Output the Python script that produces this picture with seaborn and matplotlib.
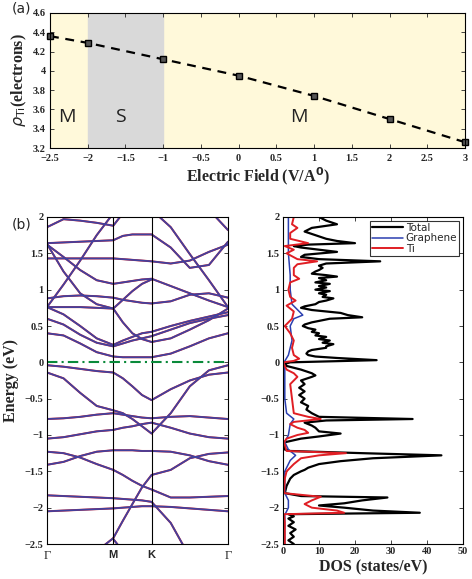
import numpy as np
import pandas as pd
import matplotlib
matplotlib.use("Agg")
import matplotlib.pyplot as plt
import seaborn as sns

sns.set_theme(style="ticks")
plt.rcParams['font.family'] = ['DejaVu Sans']

# ---------------- data: panel (a) ----------------
field = [-2.5, -2, -1, 0, 1, 2, 3]
rho_ti = [4.36, 4.29, 4.12, 3.95, 3.74, 3.50, 3.26]
phase_edges = [-2.5, -2.0, -1.0, 3.0]
phase_labels = ["M", "S", "M"]
phase_label_x = [-2.27, -1.57, 0.8]
a_xticks = [-2.5, -2, -1.5, -1, -0.5, 0, 0.5, 1, 1.5, 2, 2.5, 3]
a_xticklabels = ["\u22122.5", "\u22122", "\u22121.5", "\u22121", "\u22120.5", "0", "0.5", "1", "1.5", "2", "2.5", "3"]
a_yticks = [3.2, 3.4, 3.6, 3.8, 4.0, 4.2, 4.4, 4.6]
a_yticklabels = ["3.2", "3.4", "3.6", "3.8", "4", "4.2", "4.4", "4.6"]

# ---------------- data: band structure ----------------
kpath = [0.0, 0.144, 0.289, 0.433, 0.577, 0.661, 0.744, 0.828, 0.911, 1.078, 1.244, 1.411, 1.577]
kpoint_pos = [0.0, 0.577, 0.911, 1.577]
kpoint_labels = ["\u0393", "M", "K", "\u0393"]
nan = np.nan
band_V1 = [-0.04, -0.06, -0.09, -0.12, -0.14, -0.22, -0.33, -0.45, -0.52, -0.37, -0.25, -0.17, -0.14]
band_V2 = [-0.14, -0.22, -0.42, -0.60, -0.66, -0.70, -0.78, -0.88, -0.98, -0.70, -0.33, -0.11, -0.04]
band_A = [-0.78, -0.77, -0.75, -0.72, -0.70, -0.72, -0.74, -0.76, -0.77, -0.75, -0.74, -0.76, -0.78]
band_C = [-1.05, -1.03, -0.99, -0.95, -0.93, -0.90, -0.88, -0.85, -0.83, -0.90, -0.98, -1.03, -1.05]
band_D = [-1.23, -1.25, -1.31, -1.40, -1.48, -1.55, -1.63, -1.70, -1.75, -1.86, -1.86, -1.85, -1.84]
band_E = [-1.41, -1.37, -1.29, -1.23, -1.21, -1.21, -1.21, -1.22, -1.22, -1.23, -1.28, -1.36, -1.41]
band_F = [nan, nan, nan, -2.60, -2.42, -2.18, -1.95, -1.72, -1.55, -1.48, -1.32, -1.26, -1.24]
band_G = [nan, nan, nan, nan, -2.43, -2.60, nan, nan, nan, nan, nan, nan, nan]
band_H = [-1.83, -1.84, -1.85, -1.86, -1.87, -1.88, -1.89, -1.90, -1.92, -2.21, -2.68, nan, nan]
band_I = [-2.05, -2.04, -2.03, -2.02, -2.01, -2.00, -1.99, -1.98, -1.98, -1.99, -2.01, -2.03, -2.05]
band_C1 = [0.40, 0.37, 0.26, 0.14, 0.08, 0.07, 0.07, 0.07, 0.07, 0.12, 0.22, 0.33, 0.40]
band_C2 = [0.60, 0.52, 0.38, 0.27, 0.22, 0.26, 0.30, 0.33, 0.36, 0.45, 0.54, 0.60, 0.65]
band_C3 = [0.76, 0.66, 0.50, 0.33, 0.24, 0.30, 0.35, 0.40, 0.42, 0.50, 0.57, 0.63, 0.69]
band_F1 = [0.76, 0.76, 0.76, 0.75, 0.74, 0.55, 0.40, 0.32, 0.28, 0.33, 0.45, 0.58, 0.74]
band_B5 = [0.88, 0.91, 0.92, 0.91, 0.89, 0.86, 0.84, 0.82, 0.81, 0.84, 0.93, 0.95, 0.89]
band_B6 = [1.62, 1.45, 1.27, 1.13, 1.08, 1.10, 1.12, 1.14, 1.15, 1.05, 0.95, 0.85, 0.76]
band_R1 = [0.76, 1.07, 1.40, 1.75, 2.05, nan, nan, nan, nan, nan, nan, nan, nan]
band_R2 = [1.63, 1.25, 0.95, 0.80, 0.74, 0.86, 0.98, 1.08, 1.14, nan, nan, nan, nan]
band_B7 = [1.43, 1.43, 1.43, 1.43, 1.43, 1.42, 1.41, 1.40, 1.39, 1.36, 1.40, 1.52, 1.62]
band_B8 = [1.64, 1.65, 1.66, 1.67, 1.68, 1.74, 1.76, 1.76, 1.76, 1.58, 1.30, 1.34, 1.66]
band_B9 = [1.86, 1.97, 1.95, 1.92, 1.88, 2.05, nan, nan, nan, nan, nan, nan, nan]
band_R3 = [nan, nan, nan, nan, nan, nan, nan, nan, 2.10, 1.86, 1.49, 1.13, 0.76]
band_R4 = [nan, nan, nan, nan, nan, nan, nan, nan, nan, nan, 2.30, 2.10, 1.82]
bands = {
    "V1": band_V1, "V2": band_V2, "A": band_A, "C": band_C, "D": band_D, "E": band_E,
    "F": band_F, "G": band_G, "H": band_H, "I": band_I, "C1": band_C1, "C2": band_C2,
    "C3": band_C3, "F1": band_F1, "B5": band_B5, "B6": band_B6, "R1": band_R1, "R2": band_R2,
    "B7": band_B7, "B8": band_B8, "B9": band_B9, "R3": band_R3, "R4": band_R4,
}
e_ticks = [-2.5, -2, -1.5, -1, -0.5, 0, 0.5, 1, 1.5, 2]
e_ticklabels = ["\u22122.5", "\u22122", "\u22121.5", "\u22121", "\u22120.5", "0", "0.5", "1", "1.5", "2"]

# ---------------- data: DOS ----------------
E_total = [2.0, 1.95, 1.9, 1.85, 1.8, 1.75, 1.7, 1.67, 1.64, 1.62, 1.6, 1.58, 1.55, 1.52, 1.48, 1.45,
           1.42, 1.39, 1.36, 1.33, 1.3, 1.27, 1.25, 1.22, 1.2, 1.18, 1.16, 1.13, 1.1, 1.08, 1.05, 1.03,
           1.0, 0.98, 0.95, 0.93, 0.9, 0.88, 0.85, 0.83, 0.8, 0.77, 0.75, 0.72, 0.7, 0.68, 0.65, 0.62,
           0.6, 0.58, 0.55, 0.52, 0.5, 0.47, 0.45, 0.42, 0.4, 0.37, 0.35, 0.32, 0.3, 0.27, 0.25, 0.22,
           0.2, 0.17, 0.15, 0.12, 0.1, 0.08, 0.06, 0.03, 0.0, -0.02, -0.05, -0.1, -0.15, -0.18, -0.2,
           -0.25, -0.3, -0.35, -0.4, -0.45, -0.5, -0.55, -0.6, -0.65, -0.7, -0.75, -0.78,
           -0.8, -0.83, -0.87, -0.9, -0.95, -0.98, -1.02, -1.05, -1.1, -1.2, -1.22, -1.25, -1.28,
           -1.32, -1.36, -1.4, -1.45, -1.48, -1.5, -1.55, -1.6, -1.7, -1.8, -1.84, -1.86, -1.9, -1.94,
           -1.97, -2.0, -2.04, -2.07, -2.09, -2.12, -2.15, -2.2, -2.25, -2.3, -2.35, -2.4, -2.45, -2.5]
dos_total = [10, 12, 15, 8, 6, 9, 12, 15, 20, 7, 3, 5, 10, 15, 6, 5,
             10, 27, 12, 10, 11, 10, 9, 8, 12, 15, 10, 12, 9, 13, 10, 12,
             9, 13, 10, 12, 11, 14, 12, 10, 9, 6, 5, 8, 12, 16, 18, 22,
             13, 11, 8, 6, 5.5, 7, 9, 8, 10, 9, 12, 10, 13, 11, 14, 12,
             12, 8, 7, 6.5, 7, 9, 15, 26, 2, 0.5, 1, 5, 8, 9, 8,
             5, 6, 4.5, 6, 4.5, 6, 5, 7, 6.5, 8, 10, 36,
             12, 6, 8, 9, 10, 16, 10, 5, 0.5, 0.5, 2, 22, 44,
             25, 16, 10, 7, 6, 5, 3, 2, 1, 0.5, 5, 29, 22, 17,
             10, 17, 25, 38, 1.5, 3, 1.5, 3, 1.5, 3.5, 2, 3, 1.5, 3]
E_ti = [2.0, 1.9, 1.85, 1.78, 1.7, 1.64, 1.6, 1.55, 1.5, 1.42, 1.39, 1.35, 1.3, 1.2, 1.15, 1.1,
        1.0, 0.9, 0.85, 0.78, 0.7, 0.6, 0.5, 0.4, 0.3, 0.2, 0.1, 0.05, 0.02, 0.0, -0.05, -0.1,
        -0.15, -0.2, -0.25, -0.3, -0.5, -0.7, -0.75, -0.78, -0.82, -0.85, -0.9, -0.93, -0.97,
        -1.0, -1.05, -1.1, -1.22, -1.25, -1.28, -1.32, -1.4, -1.5, -1.6, -1.8, -1.85, -1.9,
        -1.95, -2.0, -2.04, -2.07, -2.09, -2.2, -2.5]
dos_ti = [3, 2.5, 4, 2, 2, 7, 0.5, 3, 1, 4, 9.5, 4, 3, 3, 4.5, 2,
          1.5, 2, 3.5, 1, 3, 2.5, 0.5, 2, 3, 2.5, 3, 4.5, 3, 0, 0.5, 1,
          3, 4, 3, 2, 2.5, 3, 7, 10.5, 3, 2, 4, 6, 7,
          4, 1, 0.3, 1, 17.5, 10, 5, 3, 1, 0.5, 0.3, 10.5, 8,
          6, 8, 15, 17, 0.3, 0.5, 0.5]
E_gr = [2.0, 1.5, 1.2, 1.0, 0.8, 0.75, 0.65, 0.6, 0.5, 0.3, 0.1, 0.0, -0.1, -0.5, -0.7, -0.78,
        -0.85, -1.0, -1.1, -1.2, -1.28, -1.35, -1.5, -1.8, -1.9, -2.0, -2.1, -2.5]
dos_gr = [1.5, 1.5, 2, 2, 2.5, 3.5, 5.5, 3, 2, 2.5, 1.5, 0.3, 0.5, 0.5, 1, 3,
          2, 1.5, 0.5, 1.5, 3.5, 2, 0.5, 0.5, 1.5, 1.5, 0.5, 0.5]
dos_xticks = [0, 10, 20, 30, 40, 50]

# ---------------- figure ----------------
fig = plt.figure(figsize=(4.72, 5.79), dpi=100)
tickfont = dict(family="Liberation Serif", weight="bold", size=7.5)
labfont = dict(family="Liberation Serif", weight="bold", size=11.5)

def style_axes(ax):
    ax.tick_params(direction="in", top=True, right=True, length=3, width=0.6, pad=2.5)
    for s in ax.spines.values():
        s.set_linewidth(0.8)
        s.set_color("black")

# panel (a)
axa = fig.add_axes([50/472, 1-148/579, 415/472, 135/579])
axa.set_facecolor("#FFF9DA")
axa.axvspan(phase_edges[1], phase_edges[2], color="#D9D9D9", zorder=0)
df_a = pd.DataFrame({"field": field, "rho": rho_ti})
sns.lineplot(data=df_a, x="field", y="rho", ax=axa, color="black", lw=1.6,
             linestyle=(0, (4, 3)), marker="s", markersize=5, markerfacecolor="#555555",
             markeredgecolor="black", markeredgewidth=1.0, clip_on=False)
axa.set_xlim(-2.5, 3)
axa.set_ylim(3.2, 4.6)
axa.set_xticks(a_xticks)
axa.set_xticklabels(a_xticklabels, fontdict=tickfont)
axa.set_yticks(a_yticks)
axa.set_yticklabels(a_yticklabels, fontdict=tickfont)
for lab, xx in zip(phase_labels, phase_label_x):
    axa.text(xx, 3.52, lab, ha="center", va="center", fontsize=14, family="Open Sans", color="#222222")
axa.set_xlabel("Electric Field (V/A$^\\mathbf{0}$)", fontdict=labfont, labelpad=2)
axa.set_ylabel("$\\rho_{\\mathrm{Ti}}$(electrons)", fontdict=labfont, labelpad=3)
style_axes(axa)
axa.tick_params(axis="x", pad=4)
axa.tick_params(axis="y", pad=3)
fig.text(12/472, 1-9/579, "(a)", fontsize=10, va="center", ha="left", family="DejaVu Sans")

# panel (b) bands
axb = fig.add_axes([47/472, 1-544/579, 181/472, 327/579])
rows = []
for name, vals in bands.items():
    for k, e in zip(kpath, vals):
        rows.append((name, k, e))
df_b = pd.DataFrame(rows, columns=["band", "k", "E"]).dropna()
sns.lineplot(data=df_b, x="k", y="E", units="band", estimator=None, sort=False,
             ax=axb, color="#D0202A", lw=1.45)
sns.lineplot(data=df_b, x="k", y="E", units="band", estimator=None, sort=False,
             ax=axb, color="#41419F", lw=1.25)
for kp in kpoint_pos[1:3]:
    axb.axvline(kp, color="black", lw=0.8)
axb.axhline(0, color="#0A8A3A", lw=1.5, linestyle=(0, (5, 2, 1, 2)))
axb.set_xlim(kpoint_pos[0], kpoint_pos[-1])
axb.set_ylim(-2.5, 2)
axb.set_xticks(kpoint_pos)
axb.set_xticklabels(kpoint_labels)
for i, t in enumerate(axb.get_xticklabels()):
    if kpoint_labels[i] == "\u0393":
        t.set_fontfamily("Liberation Serif"); t.set_fontsize(9)
    else:
        t.set_fontfamily("Liberation Sans"); t.set_fontweight("bold"); t.set_fontsize(8)
axb.set_yticks(e_ticks)
axb.set_yticklabels(e_ticklabels, fontdict=tickfont)
axb.set_xlabel("")
axb.set_ylabel("Energy (eV)", fontdict=labfont, labelpad=4)
style_axes(axb)
axb.tick_params(axis="x", length=0, pad=4)
fig.text(12/472, 1-224/579, "(b)", fontsize=10, va="center", ha="left", family="DejaVu Sans")

# DOS panel
axd = fig.add_axes([283/472, 1-544/579, 180/472, 327/579])
series = [("Total", E_total, dos_total, "black", 1.6),
          ("Graphene", E_gr, dos_gr, "#2B3FB0", 1.1),
          ("Ti", E_ti, dos_ti, "#E01E24", 1.4)]
for name, ee, dd, col, lw in series:
    sns.lineplot(x=dd, y=ee, sort=False, estimator=None, ax=axd, color=col, lw=lw, label=name)
axd.set_xlim(0, 50)
axd.set_ylim(-2.5, 2)
axd.set_xticks(dos_xticks)
axd.set_xticklabels([str(v) for v in dos_xticks], fontdict=tickfont)
axd.set_yticks(e_ticks)
axd.set_yticklabels(e_ticklabels, fontdict=tickfont)
axd.set_xlabel("DOS (states/eV)", fontdict=labfont, labelpad=2)
axd.set_ylabel("")
style_axes(axd)
leg = axd.legend(loc="upper right", fontsize=7.5, frameon=True, fancybox=False,
                 borderpad=0.2, labelspacing=0.05, handlelength=2.9, handletextpad=0.3,
                 borderaxespad=0.35)
leg.get_frame().set_edgecolor("black")
leg.get_frame().set_linewidth(0.8)

fig.savefig("out.png", dpi=100)
